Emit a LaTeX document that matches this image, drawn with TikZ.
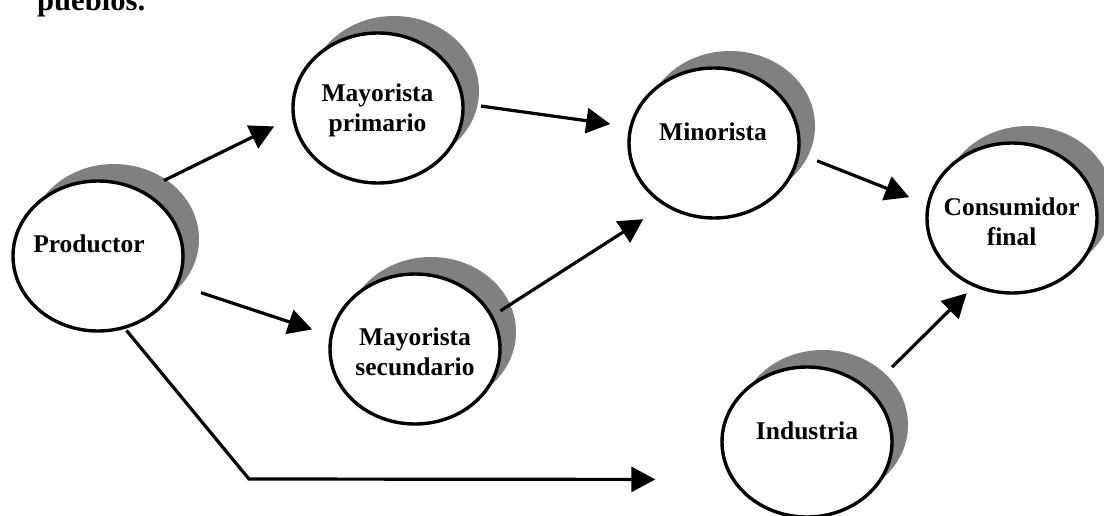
\documentclass[tikz,border=0pt]{standalone}
\usepackage{fontspec}
\setmainfont{Liberation Serif}
\usetikzlibrary{shapes.geometric,shadows,arrows.meta}
\definecolor{shadowgray}{HTML}{808080}
\begin{document}
\begin{tikzpicture}[x=1pt,y=-1pt,
  agent/.style={ellipse, draw=black, line width=3.4pt, fill=white,
    minimum width=170pt, minimum height=150pt, inner sep=0pt, outer sep=0pt,
    drop shadow={shadow xshift=16pt, shadow yshift=17pt, fill=shadowgray, opacity=1}},
  lbl/.style={font=\fontsize{25.5}{30}\selectfont\bfseries, align=center,
    inner sep=0pt, anchor=base},
  flow/.style={line width=3.2pt, -{Triangle[length=24pt,width=25pt]}}]
\useasboundingbox (0,0) rectangle (1104,515);
\clip (0,0) rectangle (1104,515);
\node[anchor=base west, inner sep=0pt, font=\fontsize{30.6}{36}\selectfont\bfseries] (title) at (37,10) {pueblos.};
\node[agent] (prod) at (98,256) {};
\node[agent] (mp) at (378,108) {};
\node[agent] (ms) at (415,349) {};
\node[agent] (mi) at (714,143) {};
\node[agent] (cf) at (1012,218) {};
\node[agent] (ind) at (807,442) {};
\node[lbl] (prodT) at (89,252) {Productor};
\node[lbl] (mpT) at (377.5,131.7) {Mayorista\\primario};
\node[lbl] (msT) at (415,375) {Mayorista\\secundario};
\node[lbl] (miT) at (713,140) {Minorista};
\node[lbl] (cfT) at (1011.7,245) {Consumidor\\final};
\node[lbl] (indT) at (807,439.3) {Industria};
\coordinate (bend) at (249,479);
\draw[flow, shorten <=25pt, shorten >=21.7pt] (prod.56.9) -- (mp.-174.3);
\draw[flow, shorten <=18.3pt, shorten >=20.9pt] (mp.3.1) -- (mi.169.8);
\draw[flow, shorten <=25.8pt, shorten >=20.2pt] (prod.-20.1) -- (ms.171.4);
\draw[flow, shorten <=10.5pt, shorten >=26.7pt] (ms.23.7) -- (mi.-128.2);
\draw[flow, shorten <=20.4pt, shorten >=20.6pt] (mi.-7.9) -- (cf.171.5);
\draw[flow, shorten <=33pt, shorten >=11.2pt] (ind.40) -- (cf.-119.6);
\draw[flow, shorten <=4pt, shorten >=78.1pt] (prod.-70.5) -- (bend) -- (ind.-153.4);
\end{tikzpicture}
\end{document}
